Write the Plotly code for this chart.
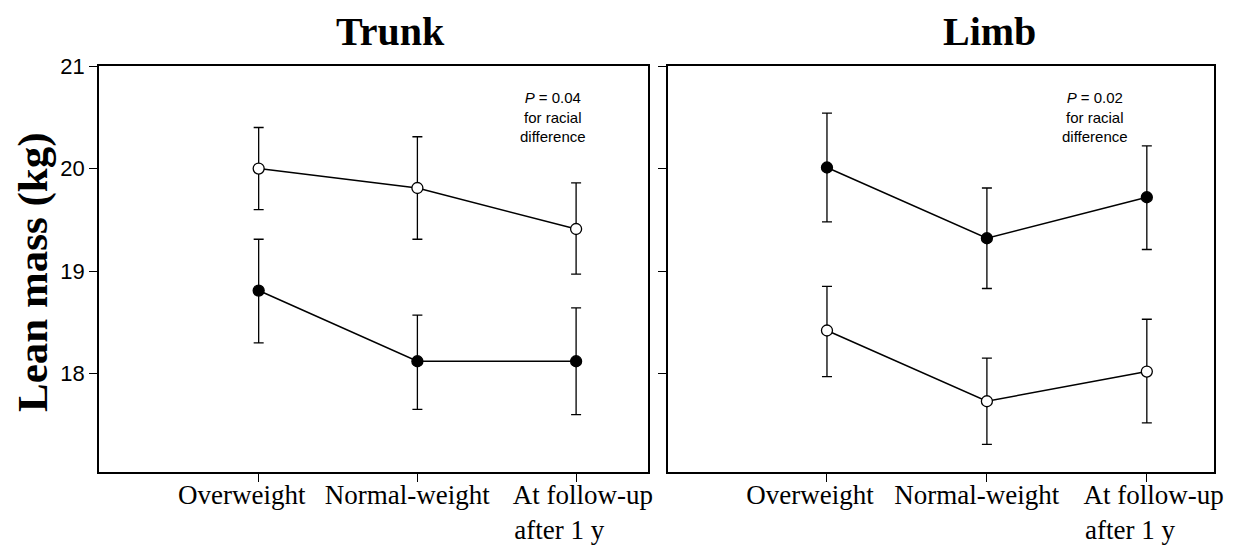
import plotly.graph_objects as go

NB = "\u00a0"
categories = ["Overweight" + NB * 5, "Normal-weight" + NB * 3,
              NB * 2 + "At follow-up<br>after 1 y" + NB * 5]
xpos = [0, 1, 2]

# Trunk panel
trunk_open = [20.0, 19.81, 19.41]
trunk_open_hi = [20.40, 20.31, 19.86]
trunk_open_lo = [19.60, 19.31, 18.97]
trunk_filled = [18.81, 18.12, 18.12]
trunk_filled_hi = [19.31, 18.57, 18.64]
trunk_filled_lo = [18.30, 17.65, 17.60]

# Limb panel
limb_filled = [20.01, 19.32, 19.72]
limb_filled_hi = [20.54, 19.81, 20.22]
limb_filled_lo = [19.48, 18.83, 19.21]
limb_open = [18.42, 17.73, 18.02]
limb_open_hi = [18.85, 18.15, 18.53]
limb_open_lo = [17.97, 17.31, 17.52]

yticks = [18, 19, 20, 21]

W, H = 1233, 546


def px(x):
    return (x - 8) / W


def py(y):
    return 1 - (y - 8) / H


fig = go.Figure()


def add_series(y, hi, lo, filled, xa, ya):
    fig.add_trace(go.Scatter(
        x=xpos, y=y, mode="lines+markers",
        line=dict(color="black", width=1.5),
        marker=dict(size=11, symbol="circle",
                    color="black" if filled else "white",
                    line=dict(color="black", width=1.3)),
        error_y=dict(type="data", symmetric=False,
                     array=[h - v for h, v in zip(hi, y)],
                     arrayminus=[v - l for v, l in zip(y, lo)],
                     color="black", thickness=1.3, width=5),
        xaxis=xa, yaxis=ya, showlegend=False, cliponaxis=False))


add_series(trunk_open, trunk_open_hi, trunk_open_lo, False, "x", "y")
add_series(trunk_filled, trunk_filled_hi, trunk_filled_lo, True, "x", "y")
add_series(limb_filled, limb_filled_hi, limb_filled_lo, True, "x2", "y2")
add_series(limb_open, limb_open_hi, limb_open_lo, False, "x2", "y2")

ydom = [py(472), py(66)]
yrange = [17.04, 21.0]
axis_common = dict(showline=True, linecolor="black", linewidth=1.5, mirror=True,
                   showgrid=False, zeroline=False, ticks="outside", automargin=False,
                   tickcolor="black", ticklen=8, tickwidth=1.3)
serif = "Liberation Serif"
sans = "Liberation Sans"

fig.update_layout(
    width=W, height=H,
    margin=dict(l=0, r=0, t=0, b=0, autoexpand=False),
    paper_bgcolor="white", plot_bgcolor="white",
    xaxis=dict(domain=[px(99), px(648)], range=[-1.006, 2.453],
               tickvals=xpos, ticktext=categories, ticklabelstandoff=-10, tickangle=0,
               tickfont=dict(family=serif, size=27, color="black"),
               **axis_common),
    yaxis=dict(domain=ydom, range=yrange, tickvals=yticks,
               tickfont=dict(family=sans, size=22, color="black"),
               **axis_common),
    xaxis2=dict(domain=[px(668), px(1214)], range=[-0.994, 2.42],
                tickvals=xpos, ticktext=categories, anchor="y2", ticklabelstandoff=-10,
                tickangle=0,
                tickfont=dict(family=serif, size=27, color="black"),
                **axis_common),
    yaxis2=dict(domain=ydom, range=yrange, tickvals=yticks, anchor="x2",
                showticklabels=False, **axis_common),
    annotations=[
        dict(text="<b>Trunk</b>", x=px(390), y=py(32), xref="paper", yref="paper",
             xanchor="center", yanchor="middle", showarrow=False,
             font=dict(family=serif, size=40, color="black")),
        dict(text="<b>Limb</b>", x=px(990), y=py(32), xref="paper", yref="paper",
             xanchor="center", yanchor="middle", showarrow=False,
             font=dict(family=serif, size=40, color="black")),
        dict(text="<b>Lean mass (kg)</b>", x=px(33), y=py(272), xref="paper",
             yref="paper", xanchor="center", yanchor="middle", textangle=-90,
             showarrow=False, font=dict(family=serif, size=43, color="black")),
        dict(text="<i>P</i> = 0.04<br>for racial<br>difference", x=px(553),
             y=py(117), xref="paper", yref="paper", xanchor="center", yanchor="middle",
             showarrow=False, font=dict(family=sans, size=15, color="black")),
        dict(text="<i>P</i> = 0.02<br>for racial<br>difference", x=px(1095),
             y=py(117), xref="paper", yref="paper", xanchor="center", yanchor="middle",
             showarrow=False, font=dict(family=sans, size=15, color="black")),
    ],
)

fig.write_html("out.html")
